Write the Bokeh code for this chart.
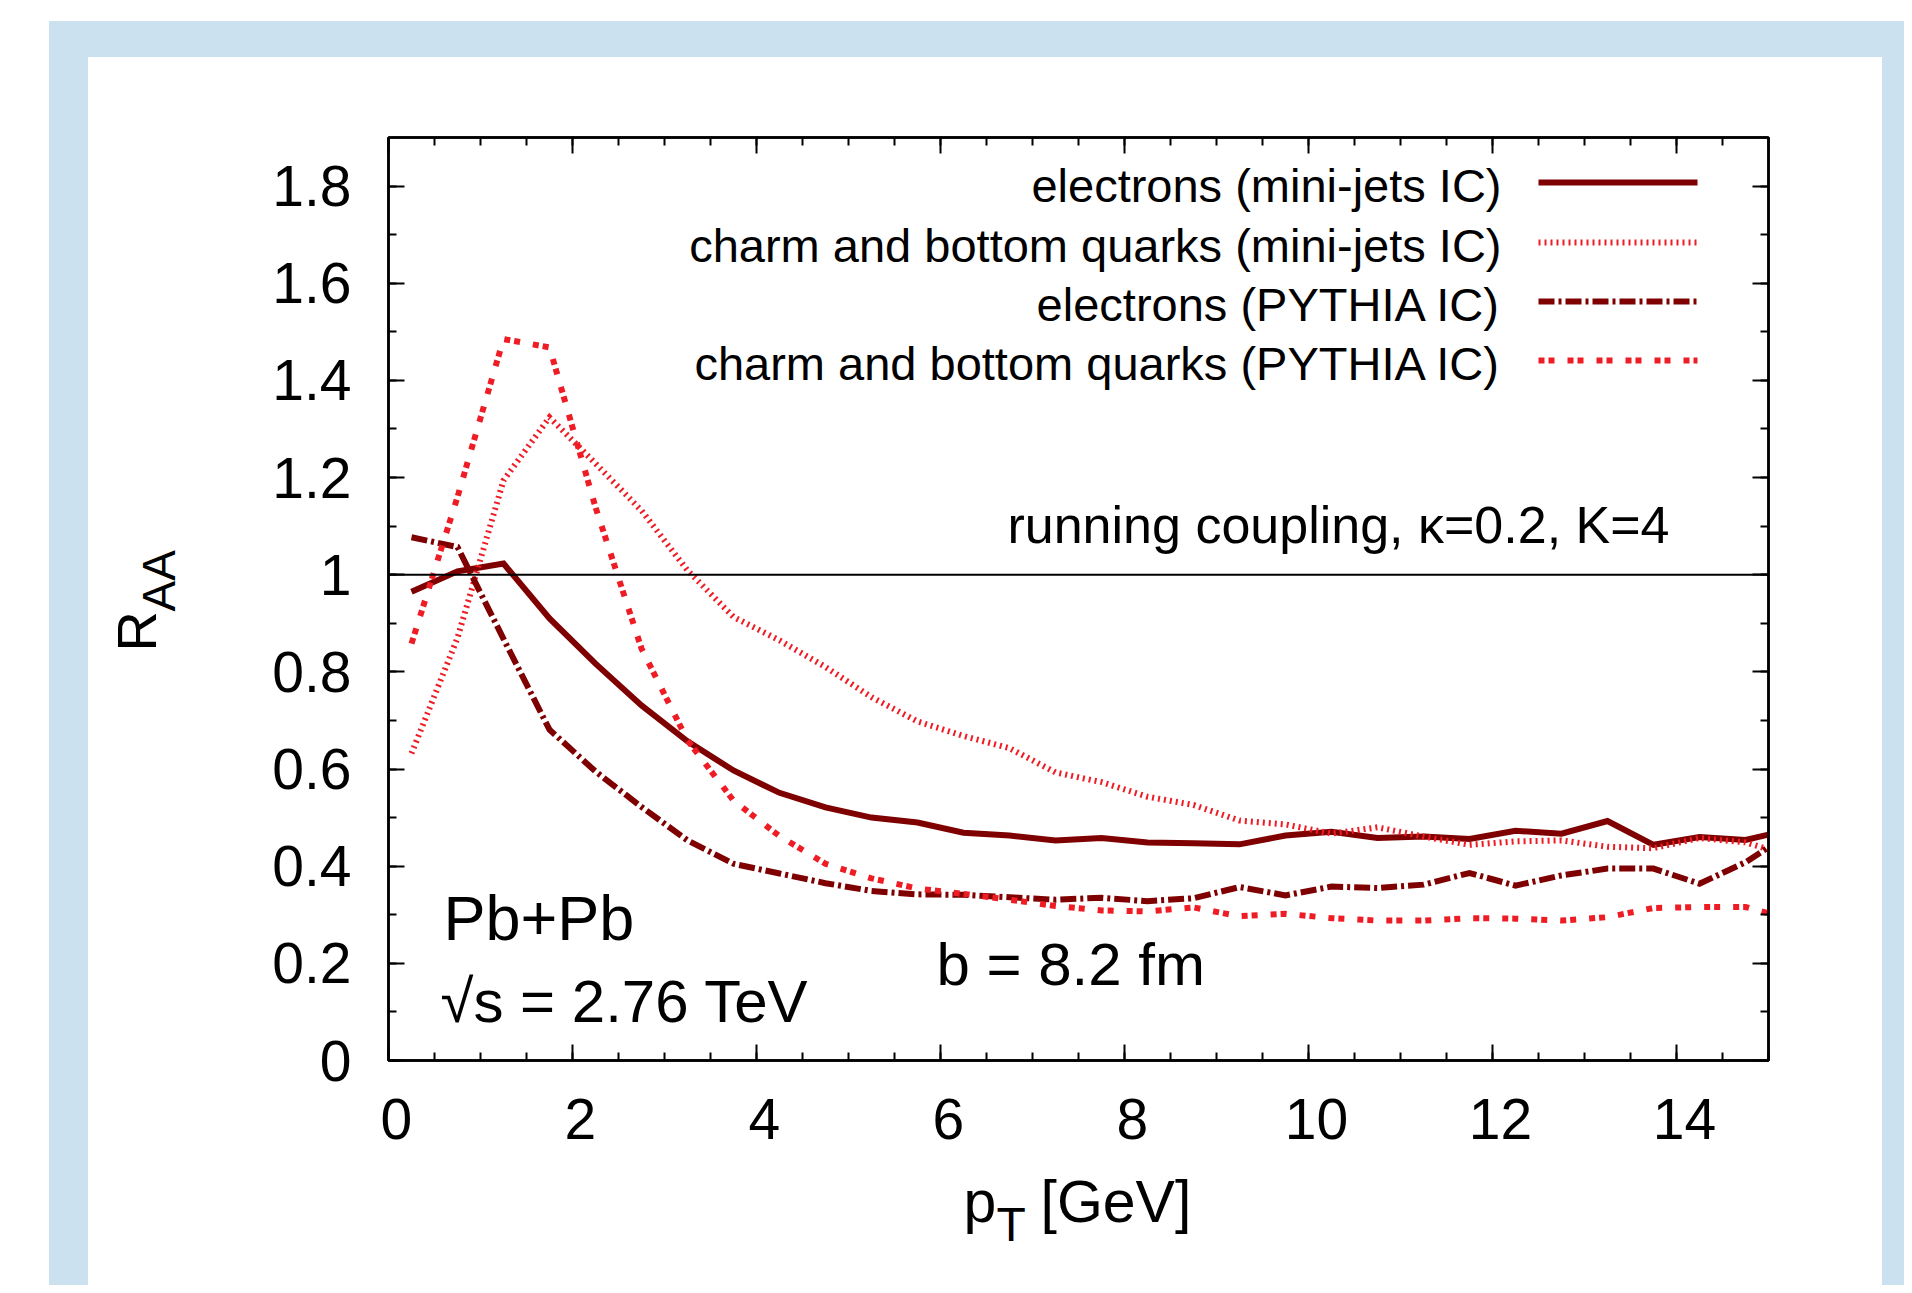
from bokeh.plotting import figure
from bokeh.models import (Label, Span, SingleIntervalTicker, LinearAxis,
                          CustomJSTickFormatter, Range1d)
from bokeh.layouts import row, column
from bokeh.embed import file_html
from bokeh.resources import INLINE
from math import pi

# ---------------- data ----------------
pt = [0.25, 0.75, 1.25, 1.75, 2.25, 2.75, 3.25, 3.75, 4.25, 4.75,
      5.25, 5.75, 6.25, 6.75, 7.25, 7.75, 8.25, 8.75, 9.25, 9.75,
      10.25, 10.75, 11.25, 11.75, 12.25, 12.75, 13.25, 13.75, 14.25, 14.75,
      15.25]

electrons_minijets = [0.965, 1.007, 1.023, 0.910, 0.817, 0.731, 0.657, 0.597, 0.551, 0.521,
                      0.500, 0.490, 0.469, 0.463, 0.453, 0.458, 0.449, 0.447, 0.445, 0.463,
                      0.471, 0.458, 0.461, 0.456, 0.473, 0.467, 0.493, 0.444, 0.460, 0.454,
                      0.476]

quarks_minijets = [0.632, 0.870, 1.194, 1.324, 1.229, 1.132, 1.009, 0.913, 0.865, 0.810,
                   0.748, 0.698, 0.668, 0.643, 0.593, 0.573, 0.543, 0.526, 0.494, 0.486,
                   0.467, 0.480, 0.461, 0.444, 0.451, 0.453, 0.440, 0.437, 0.458, 0.449,
                   0.420]

electrons_pythia = [1.077, 1.057, 0.868, 0.681, 0.595, 0.522, 0.453, 0.405, 0.385, 0.365,
                    0.349, 0.342, 0.341, 0.336, 0.331, 0.335, 0.328, 0.334, 0.357, 0.340,
                    0.358, 0.355, 0.362, 0.386, 0.360, 0.381, 0.395, 0.395, 0.364, 0.408,
                    0.470]

quarks_pythia = [0.858, 1.160, 1.485, 1.468, 1.139, 0.848, 0.659, 0.535, 0.462, 0.405,
                 0.375, 0.354, 0.343, 0.331, 0.318, 0.309, 0.307, 0.315, 0.297, 0.302,
                 0.293, 0.288, 0.288, 0.293, 0.292, 0.288, 0.295, 0.314, 0.316, 0.316,
                 0.290]

series_labels = ["electrons (mini-jets IC)",
                 "charm and bottom quarks (mini-jets IC)",
                 "electrons (PYTHIA IC)",
                 "charm and bottom quarks (PYTHIA IC)"]

X_MIN, X_MAX = 0, 15
Y_MIN, Y_MAX = 0, 1.9
reference_level = 1.0

# ---------------- layout (page pixels) ----------------
FONT = "Liberation Sans"
MAROON = "#7f0000"
RED = "#ee1c24"
BLUE = "#cce1ef"

OUT_L, OUT_T = 49, 21          # start of blue frame
PAN_L, PAN_T = 88, 57          # start of white panel
PAN_R, PAN_B = 1882, 1285      # end of white panel
OUT_R = 1904                   # end of blue frame
LEFT_W = 150                   # strip holding the y title
FX0, FX1 = 388, 1768           # frame left / right
FY0, FY1 = 137, 1060           # frame top / bottom
MAIN_B = 1170                  # bottom of the main figure
MAIN_L = PAN_L + LEFT_W
MAIN_W = PAN_R - MAIN_L
MAIN_H = MAIN_B - PAN_T
BORDER_L = FX0 - MAIN_L
BORDER_R = MAIN_L + MAIN_W - FX1

BASE_SHIFT = 0.40              # baseline correction (fraction of font size)

def dx(px):
    return X_MIN + (px - FX0) / (FX1 - FX0) * (X_MAX - X_MIN)

def dy(py):
    return Y_MIN + (FY1 - py) / (FY1 - FY0) * (Y_MAX - Y_MIN)

p = figure(width=MAIN_W, height=MAIN_H, output_backend="svg", toolbar_location=None,
           x_range=Range1d(X_MIN, X_MAX), y_range=Range1d(Y_MIN, Y_MAX),
           min_border_left=BORDER_L, min_border_right=BORDER_R,
           min_border_top=FY0 - PAN_T, min_border_bottom=MAIN_B - FY1)
p.grid.visible = False
p.background_fill_color = "white"
p.border_fill_color = "white"
p.outline_line_color = "black"
p.outline_line_width = 2.5

def style_axis(ax, labels=True):
    ax.axis_line_color = "black"
    ax.axis_line_width = 2.5
    ax.major_tick_in = 16
    ax.major_tick_out = 0
    ax.minor_tick_in = 8
    ax.minor_tick_out = 0
    ax.major_tick_line_width = 2
    ax.minor_tick_line_width = 2
    ax.major_tick_line_color = "black"
    ax.minor_tick_line_color = "black"
    ax.major_label_text_font = FONT
    ax.major_label_text_font_size = "57px"
    ax.major_label_text_color = "black"
    if not labels:
        ax.formatter = CustomJSTickFormatter(code="return ''")
        ax.major_label_text_font_size = "1px"

xtick = dict(interval=2, num_minor_ticks=4)
ytick = dict(interval=0.2, num_minor_ticks=2)

xa = p.xaxis[0]
xa.ticker = SingleIntervalTicker(**xtick)
style_axis(xa)
xa.major_label_standoff = 26
xa.formatter = CustomJSTickFormatter(code="return '\u00a0' + tick.toFixed(0)")

ya = p.yaxis[0]
ya.ticker = SingleIntervalTicker(**ytick)
style_axis(ya)
ya.major_label_standoff = 37
ya.formatter = CustomJSTickFormatter(
    code="return (tick == 0 || Math.abs(tick-1) < 1e-9) ? tick.toFixed(0) : tick.toFixed(1)")

top_ax = LinearAxis(ticker=SingleIntervalTicker(**xtick))
style_axis(top_ax, labels=False)
p.add_layout(top_ax, "above")
right_ax = LinearAxis(ticker=SingleIntervalTicker(**ytick))
style_axis(right_ax, labels=False)
p.add_layout(right_ax, "right")

p.add_layout(Span(location=reference_level, dimension="width",
                  line_color="black", line_width=2))

styles = [
    dict(line_color=MAROON, line_width=6, line_dash="solid"),
    dict(line_color=RED, line_width=6, line_dash="2 4"),
    dict(line_color=MAROON, line_width=6, line_dash="16 4 3 4"),
    dict(line_color=RED, line_width=6, line_dash="6 4 6 13"),
]
series = [electrons_minijets, quarks_minijets, electrons_pythia, quarks_pythia]

for ys, st in zip(series, styles):
    p.line(pt, ys, line_cap="butt", line_join="miter", **st)

def text_at(fig, x, y, text, size, align="left", angle=0.0):
    fig.add_layout(Label(x=x, y=y, text=text, text_align=align,
                         text_baseline="alphabetic", text_font=FONT,
                         text_font_size=f"{size}px", text_color="black", angle=angle))

# legend: label on the left, line sample on the right
LEG_SIZE = 47
row_y = [182, 242, 301, 360]
for lab, st, ry in zip(series_labels, styles, row_y):
    p.line([dx(1538), dx(1697)], [dy(ry), dy(ry)], line_cap="butt", **st)
    text_at(p, dx(1501), dy(ry + 22 - BASE_SHIFT * LEG_SIZE), lab, LEG_SIZE, align="right")

def page_text(px, py, text, size, align="left"):
    text_at(p, dx(px), dy(py - BASE_SHIFT * size), text, size, align)

page_text(1669, 545, "running coupling, \u03ba=0.2, K=4", 52, align="right")
page_text(443, 943, "Pb+Pb", 63)
page_text(440, 1025, "\u221as = 2.76 TeV", 60)
page_text(936, 988, "b = 8.2 fm", 60)

# ---------------- strips holding the axis titles ----------------
def blank(w, h, xr, yr, **borders):
    f = figure(width=w, height=h, x_range=xr, y_range=yr,
               output_backend="svg", toolbar_location=None, min_border=0,
               x_axis_type=None, y_axis_type=None, **borders)
    f.outline_line_color = None
    f.background_fill_color = "white"
    f.border_fill_color = "white"
    return f

# below the main plot: x range in page pixels, frame aligned with the main frame
BOT_H = PAN_B - MAIN_B
bottom = blank(MAIN_W, BOT_H, Range1d(FX0, FX1), Range1d(0, BOT_H),
               min_border_left=BORDER_L, min_border_right=BORDER_R)
def btext(px, py, text, size):
    text_at(bottom, px, PAN_B - (py - BASE_SHIFT * size), text, size)
btext(963, 1225, "p", 59)
btext(996, 1243, "T", 48)
btext(1040, 1225, "[GeV]", 59)

LEFT_H = PAN_B - PAN_T
left = blank(LEFT_W, LEFT_H, Range1d(0, LEFT_W), Range1d(0, LEFT_H))
def ltext(bx, sy, text, size):
    # bx: baseline x (page), sy: start y (page); text reads upwards
    text_at(left, bx - BASE_SHIFT * size - PAN_L, PAN_B - sy, text, size, angle=pi / 2)
ltext(158, 651, "R", 56)
ltext(177, 611, "AA", 46)

inner = row(left, column(p, bottom),
            margin=(PAN_T - OUT_T, OUT_R - PAN_R, 0, PAN_L - OUT_L),
            styles={"background-color": "white"})
root = column(inner, margin=(OUT_T, 0, 0, OUT_L), styles={"background-color": BLUE})

open("out.html", "w").write(file_html(root, INLINE))
